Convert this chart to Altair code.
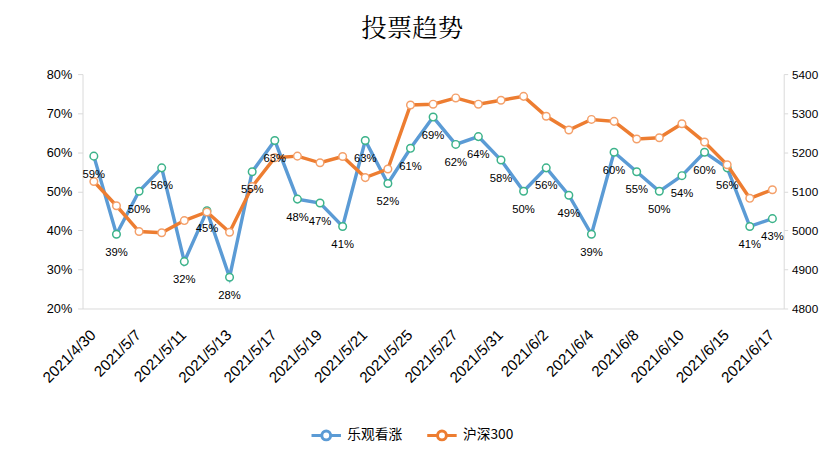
import altair as alt
import pandas as pd

dates = ["2021/4/30", "2021/5/6", "2021/5/7", "2021/5/10", "2021/5/11", "2021/5/12",
         "2021/5/13", "2021/5/14", "2021/5/17", "2021/5/18", "2021/5/19", "2021/5/20",
         "2021/5/21", "2021/5/24", "2021/5/25", "2021/5/26", "2021/5/27", "2021/5/28",
         "2021/5/31", "2021/6/1", "2021/6/2", "2021/6/3", "2021/6/4", "2021/6/7",
         "2021/6/8", "2021/6/9", "2021/6/10", "2021/6/11", "2021/6/15", "2021/6/16",
         "2021/6/17"]
bullish = [59, 39, 50, 56, 32, 45, 28, 55, 63, 48, 47, 41, 63, 52, 61, 69, 62, 64, 58,
           50, 56, 49, 39, 60, 55, 50, 54, 60, 56, 41, 43]
hs300 = [5125, 5063, 4997, 4994, 5025, 5047, 4995, 5112, 5186, 5190, 5173, 5189, 5135,
         5157, 5321, 5323, 5339, 5323, 5333, 5343, 5292, 5257, 5284, 5279, 5234, 5237,
         5273, 5226, 5168, 5082, 5104]
series_names = ["乐观看涨", "沪深300"]
left_ticks = [0.2, 0.3, 0.4, 0.5, 0.6, 0.7, 0.8]
right_ticks = [4800, 4900, 5000, 5100, 5200, 5300, 5400]

BLUE = "#5B9BD5"
ORANGE = "#ED7D31"
GREEN_MK = "#3CB38A"
ORANGE_MK = "#F4A06A"
NUM_FONT = "Liberation Sans"
CJK_FONT = "Noto Sans CJK SC"

df = pd.DataFrame({"date": dates, "bull": [v / 100 for v in bullish], "hs": hs300,
                   "s1": [series_names[0]] * len(dates),
                   "s2": [series_names[1]] * len(dates)})

x = alt.X("date:O", sort=dates, title=None,
          scale=alt.Scale(type="point", padding=0.5),
          axis=alt.Axis(values=dates[::2], labelAngle=-45, ticks=False,
                        domainColor="#d9d9d9", labelFontSize=15.5, labelPadding=19,
                        labelOffset=-6,
                        labelFont=NUM_FONT, labelColor="#000", grid=False))

y_left = alt.Y("bull:Q", title=None, scale=alt.Scale(domain=[0.2, 0.8]),
               axis=alt.Axis(values=left_ticks, format=".0%", orient="left", grid=False,
                             domainColor="#d9d9d9", tickColor="#d9d9d9", tickSize=5,
                             labelFontSize=13, labelFont=NUM_FONT, labelColor="#000",
                             labelPadding=6))
y_right = alt.Y("hs:Q", title=None, scale=alt.Scale(domain=[4800, 5400]),
                axis=alt.Axis(values=right_ticks, format="d", orient="right", grid=False,
                              domainColor="#d9d9d9", tickColor="#d9d9d9", tickSize=4,
                              labelFontSize=12, labelFont=NUM_FONT, labelColor="#000",
                              labelPadding=4))

color_scale = alt.Scale(domain=series_names, range=[BLUE, ORANGE])
legend = alt.Legend(title=None, orient="none", direction="horizontal",
                    legendX=232, legendY=352,
                    symbolType="M-1,0H-0.3M0.3,0H1M-0.3,0A0.3,0.3,0,1,1,0.3,0A0.3,0.3,0,1,1,-0.3,0Z",
                    symbolSize=900, symbolStrokeWidth=3, symbolFillColor="white",
                    labelFont=CJK_FONT, labelFontSize=14, labelColor="#000",
                    columnPadding=19, labelOffset=5)

base = alt.Chart(df)

blue_line = base.mark_line(strokeWidth=3.5).encode(
    x=x, y=y_left, color=alt.Color("s1:N", scale=color_scale, legend=legend))
blue_pts = base.mark_point(filled=True, fill="white", stroke=GREEN_MK, strokeWidth=1.5,
                           size=60, opacity=1).encode(x=x, y=y_left)
orange_line = base.mark_line(strokeWidth=3.5).encode(
    x=x, y=y_right, color=alt.Color("s2:N", scale=color_scale, legend=legend))
orange_pts = base.mark_point(filled=True, fill="white", stroke=ORANGE_MK, strokeWidth=1.5,
                             size=60, opacity=1).encode(x=x, y=y_right)
labels = base.mark_text(dy=19, fontSize=11.5, font=NUM_FONT, color="#000").encode(
    x=x,
    y=alt.Y("bull:Q", scale=alt.Scale(domain=[0.2, 0.8]), axis=None),
    text=alt.Text("bull:Q", format=".0%"))

chart = alt.layer(
    alt.layer(blue_line, blue_pts),
    alt.layer(orange_line, orange_pts),
    labels,
).resolve_scale(y="independent").properties(
    width=715, height=239,
    padding={"left": 32, "top": 4, "right": 2, "bottom": 5},
    title=alt.TitleParams("投票趋势", fontSize=26, font="Noto Serif CJK SC, " + CJK_FONT,
                          fontWeight="normal", anchor="middle", frame="bounds",
                          offset=27, dx=-17, color="#000"),
).configure_view(stroke=None)

chart.save("out.html", embed_options={"renderer": "svg", "actions": False})
